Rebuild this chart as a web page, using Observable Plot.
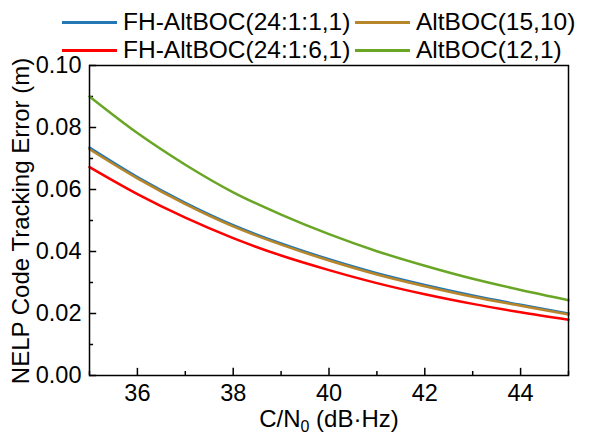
<!DOCTYPE html>
<html><head><meta charset="utf-8">
<script src="https://cdn.jsdelivr.net/npm/d3@7"></script>
<script src="https://cdn.jsdelivr.net/npm/@observablehq/plot@0.6"></script>
<style>
body{margin:0;background:#fff;font-family:"Liberation Sans",Arial,sans-serif;}
#wrap{position:relative;width:589px;height:439px;}
.leg{position:absolute;display:flex;align-items:center;font-size:24.5px;color:#000;white-space:nowrap;line-height:1;}
.sw{display:inline-block;width:55px;height:3px;margin-right:6px;}
</style></head><body><div id="wrap"></div>
<script>
// C/N0 (dB-Hz)
const cn0 = [35, 36, 37, 38, 39, 40, 41, 42, 43, 44, 45];
// NELP code tracking error (m)
const fh1 = [0.0735, 0.0640, 0.0557, 0.0485, 0.0426, 0.0375, 0.0330, 0.0292, 0.0258, 0.0228, 0.0200];
const fh6 = [0.0672, 0.0585, 0.0509, 0.0443, 0.0387, 0.0340, 0.0298, 0.0262, 0.0231, 0.0204, 0.0180];
const alt1510 = [0.0730, 0.0636, 0.0553, 0.0481, 0.0422, 0.0371, 0.0326, 0.0288, 0.0254, 0.0225, 0.0197];
const alt121 = [0.0900, 0.0782, 0.0680, 0.0591, 0.0519, 0.0456, 0.0401, 0.0354, 0.0312, 0.0276, 0.0243];

const seriesNames = ["FH-AltBOC(24:1:1,1)", "AltBOC(15,10)", "FH-AltBOC(24:1:6,1)", "AltBOC(12,1)"];
const seriesValues = [fh1, alt1510, fh6, alt121];
const seriesColors = ["#2377b4", "#b8862a", "#ff0000", "#6aa625"];

const xMajor = [36, 38, 40, 42, 44];
const xMinor = [35, 37, 39, 41, 43, 45];
const yMajor = [0, 0.02, 0.04, 0.06, 0.08, 0.10];
const yMinor = [0.01, 0.03, 0.05, 0.07, 0.09];

const rows = seriesNames.flatMap((name, i) => cn0.map((x, j) => ({series: name, x, y: seriesValues[i][j]})));

const plot = Plot.plot({
  width: 589, height: 439,
  marginLeft: 89, marginRight: 21, marginTop: 65, marginBottom: 64,
  style: {fontFamily: "'Liberation Sans', Arial, sans-serif", fontSize: "23.5px", color: "black", background: "white"},
  x: {domain: [35, 45]},
  y: {domain: [0, 0.10]},
  color: {domain: seriesNames, range: seriesColors},
  marks: [
    Plot.axisX({ticks: xMajor, tickSize: 0, tickPadding: 9, tickFormat: d => String(d), label: null}),
    Plot.axisY({ticks: yMajor, tickSize: 0, tickPadding: 8, tickFormat: d3.format(".2f"), label: null}),
    Plot.ruleX(xMajor, {x: d => d, y1: 0, y2: 0.0023, stroke: "black", strokeWidth: 1.5}),
    Plot.ruleX(xMinor, {x: d => d, y1: 0, y2: 0.0013, stroke: "black", strokeWidth: 1.5}),
    Plot.ruleY(yMajor, {y: d => d, x1: 35, x2: 35.15, stroke: "black", strokeWidth: 1.5}),
    Plot.ruleY(yMinor, {y: d => d, x1: 35, x2: 35.085, stroke: "black", strokeWidth: 1.5}),
    Plot.line(rows, {x: "x", y: "y", stroke: "series", z: "series", curve: "monotone-x", strokeWidth: 2.5}),
    Plot.frame({stroke: "black", strokeWidth: 1.5})
  ]
});

const wrap = document.getElementById("wrap");
wrap.appendChild(plot);

const svg = d3.select(plot);
// x-axis title with subscript
const xt = svg.append("text")
  .attr("x", 329).attr("y", 427)
  .attr("text-anchor", "middle")
  .attr("font-size", 24)
  .attr("fill", "black");
xt.append("tspan").text("C/N");
xt.append("tspan").attr("font-size", 16).attr("dy", 5).text("0");
xt.append("tspan").attr("dy", -5).text(" (dB·Hz)");
// y-axis title
svg.append("text")
  .attr("transform", "translate(29,221) rotate(-90)")
  .attr("text-anchor", "middle")
  .attr("font-size", 24)
  .attr("fill", "black")
  .text("NELP Code Tracking Error (m)");

// legend
const legPos = [[62, 22], [355, 22], [62, 50], [355, 50]];
seriesNames.forEach((name, i) => {
  const d = document.createElement("div");
  d.className = "leg";
  d.style.left = legPos[i][0] + "px";
  d.style.top = (legPos[i][1] - 12) + "px";
  d.style.height = "24px";
  const sw = document.createElement("span");
  sw.className = "sw";
  sw.style.background = seriesColors[i];
  d.appendChild(sw);
  d.appendChild(document.createTextNode(name));
  wrap.appendChild(d);
});
</script>
</body></html>
